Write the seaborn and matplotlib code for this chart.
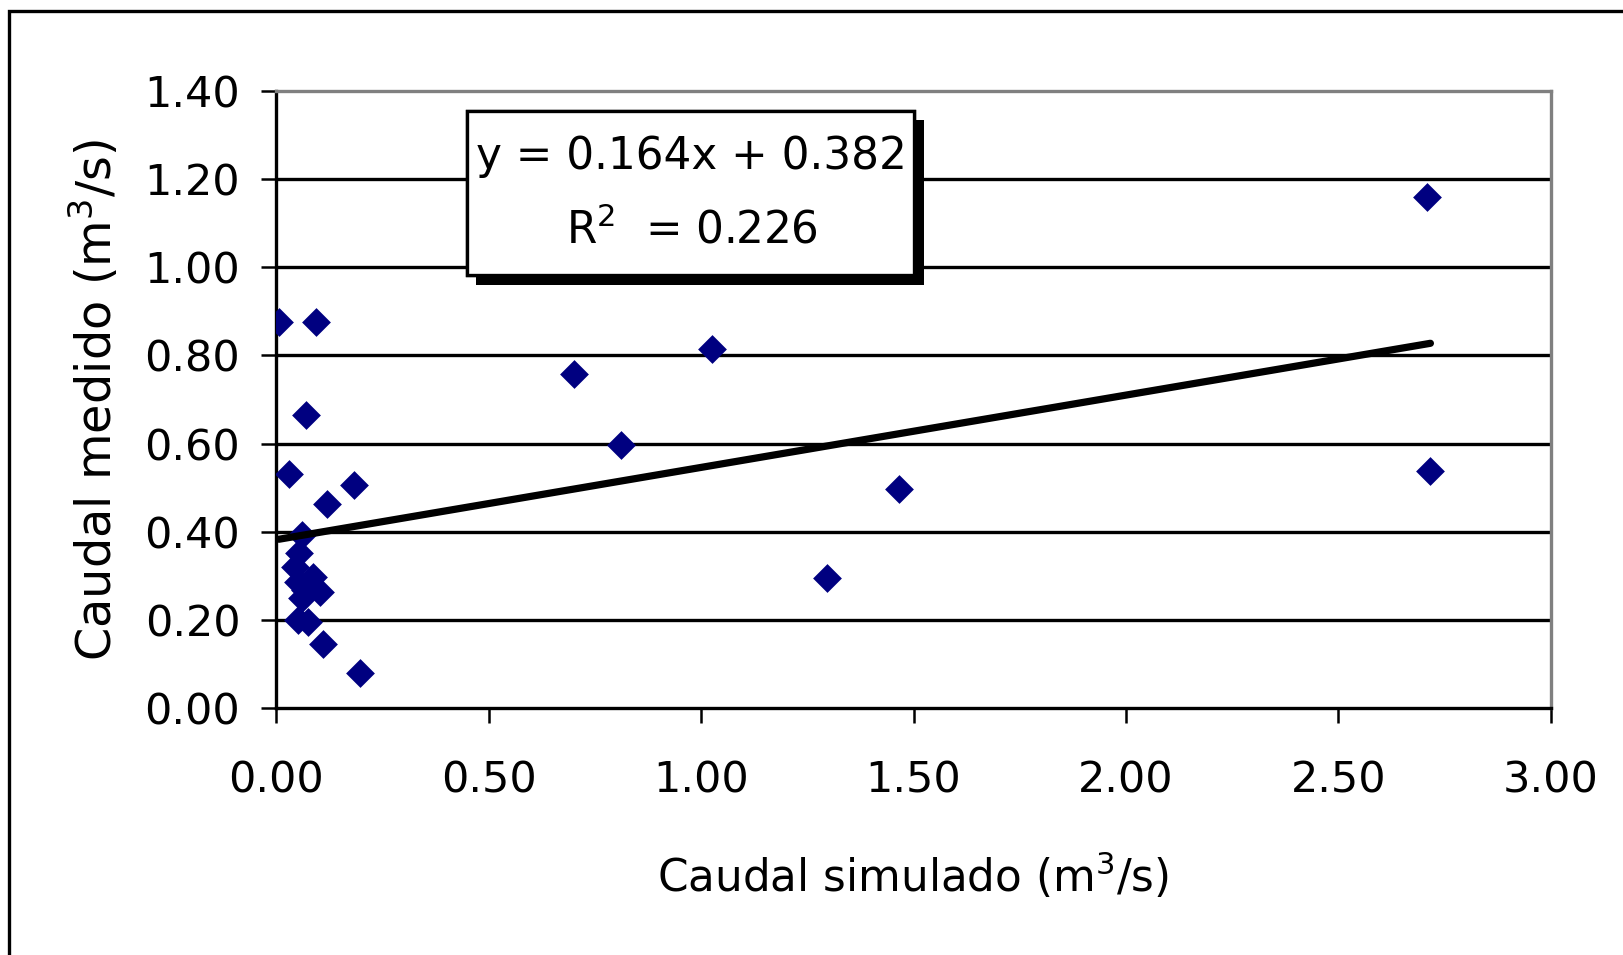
import numpy as np
import matplotlib
matplotlib.use("Agg")
import matplotlib.pyplot as plt
import matplotlib.patheffects as pe
from matplotlib.patches import Rectangle
import seaborn as sns

# Datos
caudal_simulado = [0.006, 0.094, 0.070, 0.030, 0.182, 0.118, 0.061, 0.053, 0.044,
                   0.087, 0.052, 0.103, 0.067, 0.060, 0.052, 0.075, 0.110, 0.197,
                   0.700, 0.811, 1.026, 1.297, 1.465, 2.709, 2.717]
caudal_medido = [0.875, 0.875, 0.665, 0.532, 0.506, 0.464, 0.393, 0.351, 0.321,
                 0.298, 0.287, 0.264, 0.268, 0.249, 0.200, 0.196, 0.145, 0.079,
                 0.757, 0.597, 0.815, 0.296, 0.496, 1.160, 0.538]

# Recta de regresión indicada en el gráfico
pendiente = 0.164
intercepto = 0.382
r2 = 0.226

xticks = [0.0, 0.5, 1.0, 1.5, 2.0, 2.5, 3.0]
yticks = [0.0, 0.2, 0.4, 0.6, 0.8, 1.0, 1.2, 1.4]

sns.set_style("white")
plt.rcParams["font.family"] = ["DejaVu Sans"]
plt.rcParams["text.color"] = "black"
plt.rcParams["axes.labelcolor"] = "black"
plt.rcParams["xtick.color"] = "black"
plt.rcParams["ytick.color"] = "black"

fig = plt.figure(figsize=(16.23, 9.55), dpi=100)
ax = fig.add_axes([0.1703, 0.2586, 0.7851, 0.6461])

# líneas de división horizontales
for y in yticks[1:-1]:
    ax.axhline(y, color="black", lw=2.4, zorder=1)

sns.scatterplot(x=caudal_simulado, y=caudal_medido, marker="D", s=215,
                color="#000080", linewidth=0, ax=ax, zorder=3)

x_lin = np.array([min(caudal_simulado), max(caudal_simulado)])
sns.lineplot(x=x_lin, y=pendiente * x_lin + intercepto, color="black", lw=5.2,
             ax=ax, zorder=4)

ax.set_xlim(0, 3.0)
ax.set_ylim(0, 1.4)
ax.set_xticks(xticks)
ax.set_yticks(yticks)
ax.set_xticklabels([f"{v:.2f}" for v in xticks])
ax.set_yticklabels([f"{v:.2f}" for v in yticks])
ax.tick_params(axis="both", direction="out", length=11, width=1.8,
               color="black", labelcolor="black", labelsize=31)
ax.tick_params(axis="y", pad=15, left=True)
ax.tick_params(axis="x", pad=26, bottom=True)

for lado in ["left", "bottom"]:
    ax.spines[lado].set_color("black")
    ax.spines[lado].set_linewidth(2.4)
for lado in ["top", "right"]:
    ax.spines[lado].set_color("#808080")
    ax.spines[lado].set_linewidth(2.4)

ax.set_xlabel("Caudal simulado (m$^3$/s)", fontsize=31.5, va="center")
ax.set_ylabel("Caudal medido (m$^3$/s)", fontsize=34.5, va="center")
ax.xaxis.set_label_coords(0.5, -0.271)
ax.yaxis.set_label_coords(-0.142, 0.5)

# cuadro con la ecuación (sombra negra desplazada)
caja = Rectangle((0.1493, 0.7018), 0.3511, 0.2662, transform=ax.transAxes,
                 fc="white", ec="black", lw=2.4, zorder=6)
caja.set_path_effects([pe.withSimplePatchShadow(offset=(7, -7), shadow_rgbFace="black",
                                                alpha=1.0), pe.Normal()])
ax.add_patch(caja)
ax.text(0.326, 0.8935, f"y = {pendiente:.3f}x + {intercepto:.3f}",
        transform=ax.transAxes, ha="center", va="center", fontsize=31.5, zorder=7)
ax.text(0.326, 0.7747, f"R$^{{2}}$  = {r2:.3f}",
        transform=ax.transAxes, ha="center", va="center", fontsize=31.5, zorder=7)

# marco exterior
fig.patches.append(Rectangle((0.0055, -0.05), 1.2, 0.9885 + 0.05,
                             transform=fig.transFigure, fill=False,
                             ec="black", lw=2.4))

fig.savefig("out.png", dpi=100, facecolor="white")
